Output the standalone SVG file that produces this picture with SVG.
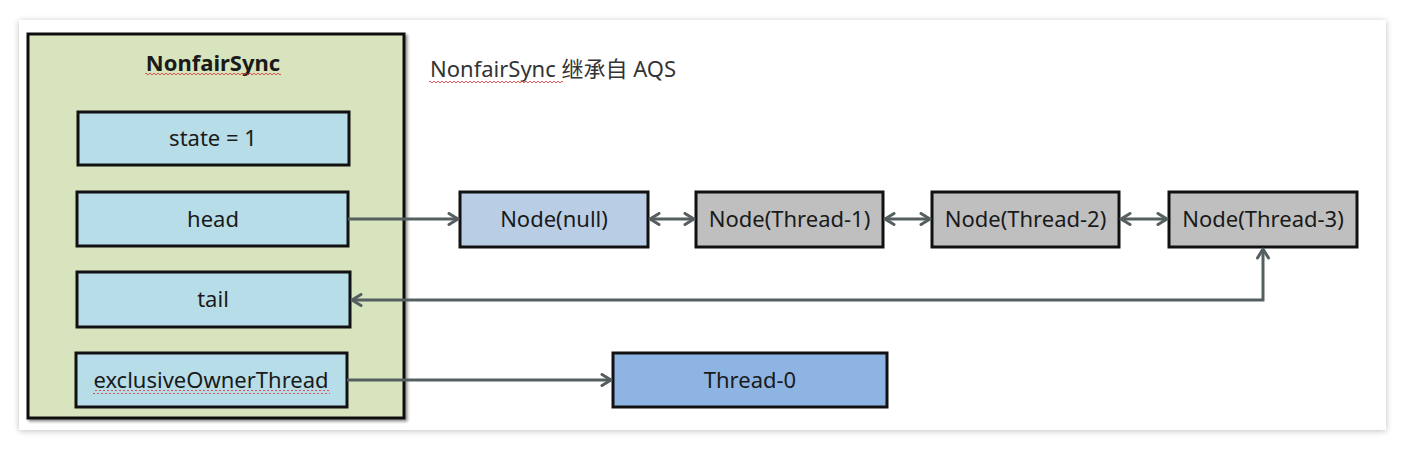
<svg xmlns="http://www.w3.org/2000/svg" width="1405" height="456" viewBox="0 0 1405 456">
<style>
  .box { stroke: #111; stroke-width: 3; }
  .field { fill: #b7dde8; }
  .nnull { fill: #b9cde5; }
  .ngray { fill: #bfbfbf; }
  .thr { fill: #8eb4e3; }
  .lbl { font-family: "Noto Sans", "Noto Sans CJK SC", sans-serif; font-size: 22px; fill: #1a1a1a; text-anchor: middle; }
  .title { font-weight: bold; font-size: 22px; }
  .cap { font-family: "Noto Sans", "Noto Sans CJK SC", sans-serif; font-size: 22px; fill: #333; }
  .conn { fill: none; stroke: #555f61; stroke-width: 3; }
</style>
<defs>
  <filter id="panelShadow" x="-5%" y="-10%" width="110%" height="120%">
    <feGaussianBlur in="SourceAlpha" stdDeviation="3"/>
    <feOffset dx="0" dy="1" result="b"/>
    <feComponentTransfer><feFuncA type="linear" slope="0.25"/></feComponentTransfer>
    <feMerge><feMergeNode/><feMergeNode in="SourceGraphic"/></feMerge>
  </filter>
  <filter id="boxShadow" x="-5%" y="-5%" width="115%" height="115%">
    <feGaussianBlur in="SourceAlpha" stdDeviation="1.5"/>
    <feOffset dx="2" dy="2"/>
    <feComponentTransfer><feFuncA type="linear" slope="0.45"/></feComponentTransfer>
    <feMerge><feMergeNode/><feMergeNode in="SourceGraphic"/></feMerge>
  </filter>
  <marker id="arr" viewBox="0 0 14 14" refX="12" refY="7" markerWidth="14" markerHeight="14" markerUnits="userSpaceOnUse" orient="auto-start-reverse">
    <path d="M3,1.5 L12,7 L3,12.5" fill="none" stroke="#555f61" stroke-width="3" stroke-linecap="round" stroke-linejoin="round"/>
  </marker>
  <pattern id="squig" width="4" height="4" patternUnits="userSpaceOnUse">
    <polyline points="0,3 2,1 4,3" fill="none" stroke="#e03030" stroke-width="0.8"/>
  </pattern>
</defs>

<rect x="0" y="0" width="1405" height="456" fill="#ffffff"/>
<rect x="19" y="20" width="1367" height="410" fill="#ffffff" filter="url(#panelShadow)"/>

<g id="nonfairSync">
  <rect x="28" y="34" width="376" height="384" fill="#d7e4bd" class="box" filter="url(#boxShadow)"/>
  <text class="lbl title" x="213" y="71">NonfairSync</text>
  <rect x="145" y="73" width="136" height="4" fill="url(#squig)"/>
</g>

<g id="caption">
  <text class="cap" x="430" y="77">NonfairSync 继承自 AQS</text>
  <rect x="429" y="79" width="134" height="4" fill="url(#squig)"/>
</g>

<g id="state">
  <rect x="78" y="112" width="271" height="53" class="box field"/>
  <text class="lbl" x="213" y="146">state = 1</text>
</g>
<g id="head">
  <rect x="77" y="192" width="271" height="54" class="box field"/>
  <text class="lbl" x="213" y="227">head</text>
</g>
<g id="tail">
  <rect x="77" y="272" width="273" height="55" class="box field"/>
  <text class="lbl" x="213" y="307">tail</text>
</g>
<g id="exclusiveOwnerThread">
  <rect x="76" y="353" width="271" height="54" class="box field"/>
  <text class="lbl" x="211" y="388">exclusiveOwnerThread</text>
  <rect x="93" y="390" width="237" height="4" fill="url(#squig)"/>
</g>

<g id="nodeNull">
  <rect x="460" y="192" width="188" height="55" class="box nnull"/>
  <text class="lbl" x="554" y="227">Node(null)</text>
</g>
<g id="nodeThread1">
  <rect x="696" y="192" width="187" height="55" class="box ngray"/>
  <text class="lbl" x="789.5" y="227">Node(Thread-1)</text>
</g>
<g id="nodeThread2">
  <rect x="932" y="192" width="187" height="55" class="box ngray"/>
  <text class="lbl" x="1025.5" y="227">Node(Thread-2)</text>
</g>
<g id="nodeThread3">
  <rect x="1169" y="192" width="188" height="55" class="box ngray"/>
  <text class="lbl" x="1263" y="227">Node(Thread-3)</text>
</g>
<g id="thread0">
  <rect x="613" y="353" width="274" height="54" class="box thr"/>
  <text class="lbl" x="750" y="388">Thread-0</text>
</g>

<g id="connectors">
  <line class="conn" x1="348" y1="219" x2="458" y2="219" marker-end="url(#arr)"/>
  <line class="conn" x1="650" y1="219" x2="694" y2="219" marker-start="url(#arr)" marker-end="url(#arr)"/>
  <line class="conn" x1="885" y1="219" x2="930" y2="219" marker-start="url(#arr)" marker-end="url(#arr)"/>
  <line class="conn" x1="1121" y1="219" x2="1167" y2="219" marker-start="url(#arr)" marker-end="url(#arr)"/>
  <polyline class="conn" points="352,300 1263,300 1263,249" marker-start="url(#arr)" marker-end="url(#arr)"/>
  <line class="conn" x1="347" y1="380" x2="611" y2="380" marker-end="url(#arr)"/>
</g>
</svg>
